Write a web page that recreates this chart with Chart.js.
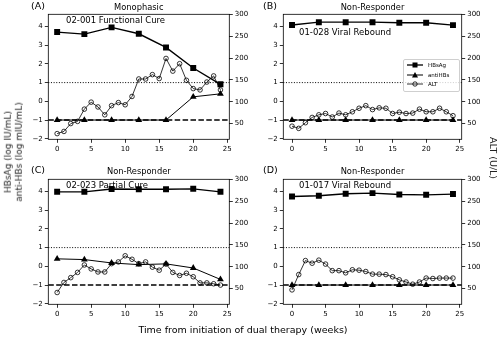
<!DOCTYPE html>
<html><head><meta charset="utf-8">
<script src="https://cdn.jsdelivr.net/npm/chart.js@4.4.1/dist/chart.umd.min.js"></script>
<style>
html,body{margin:0;padding:0;background:#fff;}
#wrap{position:relative;width:500px;height:337px;overflow:hidden;font-family:"DejaVu Sans",sans-serif;color:#000;}
canvas{position:absolute;left:0;top:0;}
.t{position:absolute;white-space:nowrap;line-height:1;}
.c{transform:translate(-50%,-50%);}
.l{transform:translate(0,-50%);}
#legend{position:absolute;left:403px;top:59px;width:55px;height:31px;border:1px solid #cfcfcf;border-radius:2px;background:rgba(255,255,255,0.8);font-size:5.5px;}
#legend .row{position:absolute;left:3px;height:9px;display:flex;align-items:center;}
#legend svg{display:block;margin-right:5px;}
</style></head><body>
<div id="wrap">
<canvas id="cA" width="500" height="337"></canvas>
<canvas id="cB" width="500" height="337"></canvas>
<canvas id="cC" width="500" height="337"></canvas>
<canvas id="cD" width="500" height="337"></canvas>

<div class="t l" style="left:31px;top:6px;font-size:9.5px;">(A)</div>
<div class="t c" style="left:138.8px;top:6.5px;font-size:8.3px;">Monophasic</div>
<div class="t l" style="left:66px;top:20px;font-size:8.5px;">02-001 Functional Cure</div>

<div class="t l" style="left:263px;top:6px;font-size:9.5px;">(B)</div>
<div class="t c" style="left:372.5px;top:6.5px;font-size:8.3px;">Non-Responder</div>
<div class="t l" style="left:299px;top:31.5px;font-size:8.5px;">01-028 Viral Rebound</div>

<div class="t l" style="left:31px;top:170px;font-size:9.5px;">(C)</div>
<div class="t c" style="left:138.8px;top:171px;font-size:8.3px;">Non-Responder</div>
<div class="t l" style="left:66px;top:185px;font-size:8.5px;">02-023 Partial Cure</div>

<div class="t l" style="left:263px;top:170px;font-size:9.5px;">(D)</div>
<div class="t c" style="left:372.5px;top:171px;font-size:8.3px;">Non-Responder</div>
<div class="t l" style="left:299px;top:185px;font-size:8.5px;">01-017 Viral Rebound</div>

<div class="t c" style="left:14px;top:152px;font-size:9px;line-height:11.2px;text-align:center;color:#222;transform:translate(-50%,-50%) rotate(-90deg);">HBsAg (log IU/mL)<br>anti-HBs (log mIU/mL)</div>
<div class="t c" style="left:493px;top:158px;font-size:9.5px;color:#222;transform:translate(-50%,-50%) rotate(90deg);">ALT (U/L)</div>
<div class="t c" style="left:243px;top:330px;font-size:9.5px;">Time from initiation of dual therapy (weeks)</div>

<div id="legend">
  <div class="row" style="top:0.5px;"><svg width="16" height="8"><line x1="0" y1="4" x2="16" y2="4" stroke="#000" stroke-width="1.3"/><rect x="5.5" y="1.5" width="5" height="5" fill="#000"/></svg>HBsAg</div>
  <div class="row" style="top:10px;"><svg width="16" height="8"><line x1="0" y1="4" x2="16" y2="4" stroke="#000" stroke-width="1"/><polygon points="8,1 11,6.5 5,6.5" fill="#000"/></svg>antiHBs</div>
  <div class="row" style="top:19.5px;"><svg width="16" height="8"><line x1="0" y1="4" x2="16" y2="4" stroke="#000" stroke-width="0.8"/><circle cx="8" cy="4" r="2.2" fill="none" stroke="#000" stroke-width="0.8"/></svg>ALT</div>
</div>
</div>

<script>
// ---- data ----
const weeks = [0,1,2,3,4,5,6,7,8,9,10,11,12,13,14,15,16,17,18,19,20,21,22,23,24];
const visitWeeks = [0,4,8,12,16,20,24];
const xTicks = [0,5,10,15,20,25];
const leftTicks = [-2,-1,0,1,2,3,4];
const rightTicks = [50,100,150,200,250,300];
const refLevels = { dotted: 1, dashed: -1 };

const hbsagA   = [3.70,3.59,3.95,3.61,2.88,1.78,0.91];
const antiHBsA = [-1,-1,-1,-1,-1,0.24,0.40];
const altA     = [27,32,50,55,83,99,88,70,91,98,93,112,152,152,162,153,199,170,187,149,130,127,145,159,127];

const hbsagB   = [4.08,4.23,4.23,4.23,4.20,4.20,4.07];
const antiHBsB = [-1,-1,-1,-1,-1,-1,-1];
const altB     = [44,39,52,64,70,73,65,74,70,77,85,91,82,86,85,73,76,73,74,83,77,77,85,77,68];

const hbsagC   = [3.98,3.98,4.13,4.12,4.12,4.14,3.98];
const antiHBsC = [0.40,0.36,0.18,0.09,0.13,-0.09,-0.70];
const altC     = [41,64,75,87,104,95,88,88,107,111,125,117,107,111,99,92,106,87,80,85,77,63,63,61,58];

const hbsagD   = [3.73,3.77,3.88,3.91,3.84,3.82,3.86];
const antiHBsD = [-1,-1,-1,-1,-1,-1,-1];
const altD     = [47,82,114,108,115,106,91,91,86,93,92,89,83,83,82,77,70,65,60,65,74,73,74,74,74];

// ---- helpers ----
const pts = (xs, ys) => xs.map((x, i) => ({ x: x, y: ys[i] }));
const fmt = v => (v < 0 ? '\u2212' + Math.abs(v) : String(v));
const setTicks = arr => scale => { scale.ticks = arr.map(v => ({ value: v })); };

const refLinePlugin = {
  id: 'refLines',
  beforeDatasetsDraw(chart) {
    const { ctx, chartArea: a, scales } = chart;
    const y1 = scales.yL.getPixelForValue(refLevels.dotted);
    const y2 = scales.yL.getPixelForValue(refLevels.dashed);
    ctx.save();
    ctx.strokeStyle = '#000';
    ctx.lineWidth = 1;
    ctx.setLineDash([1, 1.65]);
    ctx.beginPath(); ctx.moveTo(a.left, y1); ctx.lineTo(a.right, y1); ctx.stroke();
    ctx.lineWidth = 1.4;
    ctx.setLineDash([5.5, 2.4]);
    ctx.beginPath(); ctx.moveTo(a.left, y2); ctx.lineTo(a.right, y2); ctx.stroke();
    ctx.restore();
  }
};
const boxPlugin = {
  id: 'box',
  afterDraw(chart) {
    const { ctx, chartArea: a } = chart;
    ctx.save();
    ctx.strokeStyle = '#000';
    ctx.lineWidth = 0.8;
    ctx.strokeRect(a.left, a.top, a.right - a.left, a.bottom - a.top);
    ctx.restore();
  }
};

function tickOpts(arr, fit, extra) {
  return Object.assign({
    type: 'linear',
    bounds: 'data',
    afterBuildTicks: setTicks(arr),
    afterFit: fit,
    ticks: { font: { family: 'DejaVu Sans', size: 7 }, color: '#000', padding: 2, callback: v => fmt(v), autoSkip: false, maxRotation: 0 },
    grid: { display: true, drawOnChartArea: false, drawTicks: true, tickLength: 3.5, tickWidth: 0.8, tickColor: '#000' },
    border: { display: false }
  }, extra);
}

function makePanel(id, area, hbsag, anti, alt) {
  new Chart(document.getElementById(id), {
    type: 'line',
    data: {
      datasets: [
        { label: 'HBsAg', data: pts(visitWeeks, hbsag), yAxisID: 'yL', borderColor: '#000', backgroundColor: '#000',
          borderWidth: 1.4, pointStyle: 'rect', pointRadius: 4.2, pointBorderWidth: 0, tension: 0, order: 2 },
        { label: 'antiHBs', data: pts(visitWeeks, anti), yAxisID: 'yL', borderColor: '#000', backgroundColor: '#000',
          borderWidth: 1, pointStyle: 'triangle', pointRadius: 3.9, pointBorderWidth: 0, tension: 0, order: 3 },
        { label: 'ALT', data: pts(weeks, alt), yAxisID: 'yR', borderColor: '#000', backgroundColor: 'rgba(0,0,0,0)',
          borderWidth: 0.8, pointStyle: 'circle', pointRadius: 2.3, pointBorderWidth: 0.8, tension: 0, order: 1 }
      ]
    },
    options: {
      responsive: false,
      animation: false,
      devicePixelRatio: 1,
      layout: { padding: { left: area.l - 30, right: 500 - area.r - 30, top: area.t, bottom: 337 - area.b - 20 } },
      plugins: { legend: { display: false }, tooltip: { enabled: false }, title: { display: false } },
      elements: { line: { fill: false } },
      scales: {
        x: tickOpts(xTicks, s => { s.height = 20; }, { position: 'bottom', min: -1.3, max: 25.3 }),
        yL: tickOpts(leftTicks, s => { s.width = 30; }, { position: 'left', min: -2.03, max: 4.65 }),
        yR: tickOpts(rightTicks, s => { s.width = 30; }, { position: 'right', min: 14, max: 300 })
      }
    },
    plugins: [refLinePlugin, boxPlugin]
  });
}

makePanel('cA', { l: 48.3, r: 229.3, t: 14.3, b: 139.3 }, hbsagA, antiHBsA, altA);
makePanel('cB', { l: 283.3, r: 461.7, t: 14.3, b: 139.3 }, hbsagB, antiHBsB, altB);
makePanel('cC', { l: 48.3, r: 229.3, t: 179.3, b: 304.3 }, hbsagC, antiHBsC, altC);
makePanel('cD', { l: 283.3, r: 461.7, t: 179.3, b: 304.3 }, hbsagD, antiHBsD, altD);
</script>
</body></html>
